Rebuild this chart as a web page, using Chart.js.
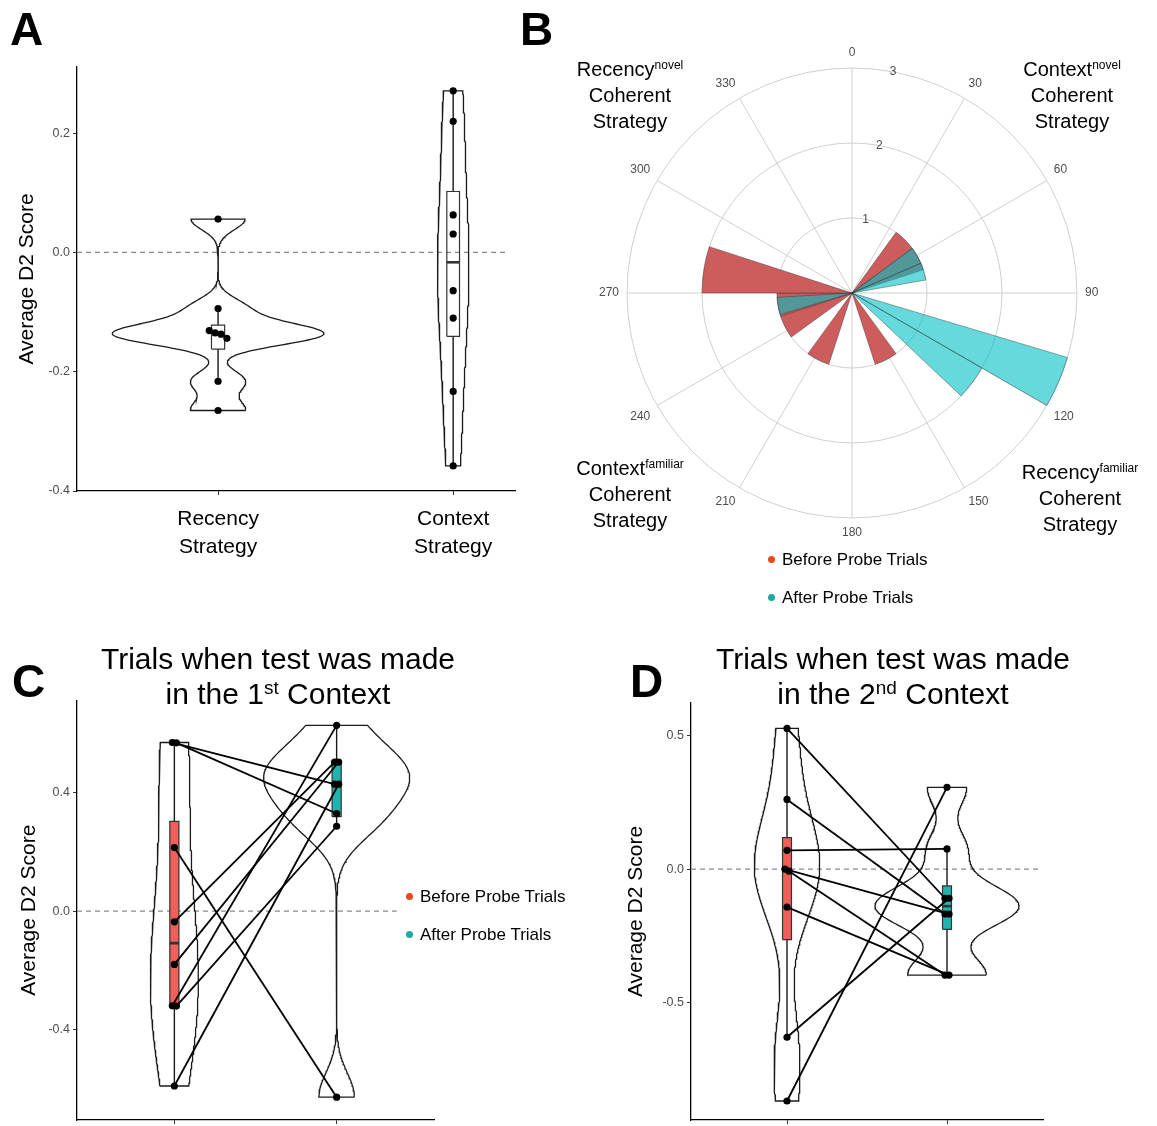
<!DOCTYPE html>
<html>
<head>
<meta charset="utf-8">
<title>Strategy scores before and after probe trials</title>
<script src="https://cdn.jsdelivr.net/npm/chart.js"></script>
<style>
  html, body { margin: 0; padding: 0; background: #fff; }
  body { width: 1157px; height: 1126px; position: relative; overflow: hidden;
         font-family: "Liberation Sans", Arial, Helvetica, sans-serif; color: #000; }
  canvas { position: absolute; }
  .txt { position: absolute; white-space: nowrap; }
  .letter { font-weight: bold; font-size: 46px; line-height: 46px; }
  .ann { font-size: 20px; line-height: 26px; text-align: center; width: 200px; }
  .ann sup { font-size: 12px; vertical-align: 7px; line-height: 0; }
  .ttl { font-size: 30px; line-height: 35px; text-align: center; width: 400px; }
  .ttl sup { font-size: 19px; vertical-align: 10px; line-height: 0; }
  .leg { font-size: 17px; line-height: 22px; }
  .dot { position: absolute; width: 7px; height: 7px; border-radius: 50%; }
</style>
</head>
<body>

<canvas id="panelA" width="530" height="530" style="left:0px;top:50px;"></canvas>
<canvas id="panelB" width="540" height="540" style="left:579px;top:23px;"></canvas>
<canvas id="panelC" width="440" height="450" style="left:0px;top:690px;"></canvas>
<canvas id="panelD" width="557" height="450" style="left:600px;top:690px;"></canvas>

<div class="txt letter" style="left:10px;top:6px;">A</div>
<div class="txt letter" style="left:520px;top:6px;">B</div>
<div class="txt letter" style="left:12px;top:658px;">C</div>
<div class="txt letter" style="left:630px;top:658px;">D</div>

<div class="txt ann" style="left:530px;top:56px;">Recency<sup>novel</sup><br>Coherent<br>Strategy</div>
<div class="txt ann" style="left:972px;top:56px;">Context<sup>novel</sup><br>Coherent<br>Strategy</div>
<div class="txt ann" style="left:530px;top:455px;">Context<sup>familiar</sup><br>Coherent<br>Strategy</div>
<div class="txt ann" style="left:980px;top:459px;">Recency<sup>familiar</sup><br>Coherent<br>Strategy</div>

<div class="dot" style="left:768px;top:556px;background:#e8481e;"></div>
<div class="txt leg" style="left:782px;top:549px;">Before Probe Trials</div>
<div class="dot" style="left:768px;top:594px;background:#1fa8a0;"></div>
<div class="txt leg" style="left:782px;top:587px;">After Probe Trials</div>

<div class="txt ttl" style="left:78px;top:641px;">Trials when test was made<br>in the 1<sup>st</sup> Context</div>
<div class="txt ttl" style="left:693px;top:641px;">Trials when test was made<br>in the 2<sup>nd</sup> Context</div>

<div class="dot" style="left:406px;top:893px;background:#e8481e;"></div>
<div class="txt leg" style="left:420px;top:886px;">Before Probe Trials</div>
<div class="dot" style="left:406px;top:931px;background:#1fa8a0;"></div>
<div class="txt leg" style="left:420px;top:924px;">After Probe Trials</div>

<script>
// ---------- data ----------
// Panel A: average D2 score per participant for each strategy
const strategyNames = [['Recency', 'Strategy'], ['Context', 'Strategy']];
const recencyScores = [0.056, -0.094, -0.131, -0.135, -0.137, -0.144, -0.216, -0.265];
const contextScores = [0.271, 0.220, 0.063, 0.031, -0.064, -0.110, -0.233, -0.358];
const scoreTicksA = [-0.4, -0.2, 0.0, 0.2];

// Panel B: strategy angle histograms (counts per angular bin)
const compassLabels = ['0', '30', '60', '90', '120', '150', '180', '210', '240', '270', '300', '330'];
const beforeAngleCounts = [0, 0, 1, 1, 0, 0, 0, 0, 1, 0, 0, 1, 0, 1, 1, 2, 0, 0, 0, 0];            // 20 bins
const afterAngleCounts = [0, 0, 0, 0, 1, 1, 0, 0, 3, 2, 0, 0, 0, 0, 0, 0, 0, 0, 0, 1, 0, 0, 0, 0, 0, 0, 0]; // 27 bins
const countTicks = [1, 2, 3];

// Panel C: test made in the 1st context (paired by participant)
const firstBefore = [0.570, 0.569, 0.215, -0.036, -0.180, -0.320, -0.321, -0.591];
const firstAfter = [0.429, 0.330, -0.629, 0.504, 0.504, 0.628, 0.287, 0.429];
const scoreTicksC = [-0.4, 0.0, 0.4];

// Panel D: test made in the 2nd context (paired by participant)
const secondBefore = [0.525, 0.260, 0.070, 0.000, -0.008, -0.142, -0.628, -0.866];
const secondAfter = [-0.109, -0.168, 0.075, -0.168, -0.396, -0.396, -0.109, 0.305];
const scoreTicksD = [-0.5, 0.0, 0.5];

// ---------- helpers ----------
const FONT = '"Liberation Sans", Arial, Helvetica, sans-serif';
Chart.defaults.font.family = FONT;

const BEFORE_BOX = '#f0605b';
const AFTER_BOX = '#21b3b0';
const INK = '#1a1a1a';

function sorted(a) { return a.slice().sort((p, q) => p - q); }
function quantile(s, p) {
  const h = (s.length - 1) * p, lo = Math.floor(h), hi = Math.min(lo + 1, s.length - 1);
  return s[lo] + (h - lo) * (s[hi] - s[lo]);
}
function stdev(a) {
  const m = a.reduce((s, v) => s + v, 0) / a.length;
  return Math.sqrt(a.reduce((s, v) => s + (v - m) * (v - m), 0) / (a.length - 1));
}
// Silverman's rule of thumb (bw.nrd0)
function bandwidth(a) {
  const s = sorted(a);
  const hi = stdev(a);
  let lo = Math.min(hi, (quantile(s, 0.75) - quantile(s, 0.25)) / 1.34);
  if (!lo) lo = hi || Math.abs(a[0]) || 1;
  return 0.9 * lo * Math.pow(a.length, -0.2);
}
// Gaussian kernel density, trimmed to the data range
function density(a, steps) {
  const bw = bandwidth(a), s = sorted(a);
  const lo = s[0], hi = s[s.length - 1];
  const k = 1 / (a.length * bw * Math.sqrt(2 * Math.PI));
  const out = [];
  for (let i = 0; i < steps; i++) {
    const y = lo + (hi - lo) * i / (steps - 1);
    let d = 0;
    for (const v of a) { const z = (y - v) / bw; d += Math.exp(-0.5 * z * z); }
    out.push({ y, d: d * k });
  }
  return out;
}
function boxStats(a) {
  const s = sorted(a);
  const q1 = quantile(s, 0.25), med = quantile(s, 0.5), q3 = quantile(s, 0.75), iqr = q3 - q1;
  const lo = s.find(v => v >= q1 - 1.5 * iqr);
  const hi = s.slice().reverse().find(v => v <= q3 + 1.5 * iqr);
  return { q1, med, q3, lo, hi };
}
function seg(points, extra) {
  return Object.assign({ type: 'line', data: points, borderColor: INK, borderWidth: 1.4,
    pointRadius: 0, fill: false, tension: 0 }, extra || {});
}
// violin outlines, widths scaled by the largest density in the panel
function violins(groups) {
  const dens = groups.map(g => density(g.values, 240));
  let maxD = 0;
  dens.forEach(list => list.forEach(p => { if (p.d > maxD) maxD = p.d; }));
  return groups.map((g, i) => {
    const right = dens[i].map(p => ({ x: g.x + 0.45 * p.d / maxD, y: p.y }));
    const left = dens[i].slice().reverse().map(p => ({ x: g.x - 0.45 * p.d / maxD, y: p.y }));
    const pts = right.concat(left);
    pts.push(right[0]);
    return seg(pts, { borderWidth: 1.3, order: 6 });
  });
}
function boxplot(x, values, fillColor, half) {
  const b = boxStats(values);
  const rect = [
    { x: x - half, y: b.q1 }, { x: x + half, y: b.q1 }, { x: x + half, y: b.q3 },
    { x: x - half, y: b.q3 }, { x: x - half, y: b.q1 }
  ];
  return [
    seg([{ x, y: b.hi }, { x, y: b.q3 }], { order: 5 }),
    seg([{ x, y: b.q1 }, { x, y: b.lo }], { order: 5 }),
    seg(rect, { order: 4, borderColor: '#333', borderWidth: 1.2,
      fill: fillColor ? 'shape' : false, backgroundColor: fillColor || 'transparent' }),
    seg([{ x: x - half, y: b.med }, { x: x + half, y: b.med }], { order: 3, borderWidth: 2.6, borderColor: '#333' })
  ];
}
// points sharing (nearly) the same value are placed side by side
function dodge(values, x, step, tol) {
  const out = values.map(v => ({ x, y: v }));
  const used = values.map(() => false);
  values.forEach((v, i) => {
    if (used[i]) return;
    const grp = [];
    values.forEach((w, j) => { if (!used[j] && Math.abs(w - v) <= tol) { grp.push(j); used[j] = true; } });
    grp.forEach((j, k) => { out[j].x = x + (k - (grp.length - 1) / 2) * step; });
  });
  return out;
}
function dots(points) {
  return { type: 'scatter', data: points, pointRadius: 3.6, pointBackgroundColor: '#000',
    pointBorderWidth: 0, showLine: false, order: 1 };
}
function zeroLine(x0, x1) {
  return seg([{ x: x0, y: 0 }, { x: x1, y: 0 }], { borderColor: '#8a8a8a', borderDash: [5, 4],
    borderWidth: 1.3, order: 7 });
}

function stripOptions(cfg) {
  return {
    responsive: false, animation: false, devicePixelRatio: 1, events: [],
    layout: { padding: cfg.padding },
    plugins: { legend: { display: false }, tooltip: { enabled: false } },
    scales: {
      x: {
        type: 'linear', min: cfg.xmin, max: cfg.xmax,
        afterBuildTicks: s => { s.ticks = [{ value: 1 }, { value: 2 }]; },
        afterFit: s => { s.height = cfg.xAxisHeight; },
        grid: { display: true, drawOnChartArea: false, drawTicks: true, tickLength: 4, color: '#333', lineWidth: 1 },
        border: { display: true, color: '#000', width: 1.3 },
        ticks: {
          callback: v => (cfg.xLabels ? cfg.xLabels[Math.round(v) - 1] : ''),
          font: { size: 21, lineHeight: 1.33 }, color: '#000', padding: 10,
          maxRotation: 0, autoSkip: false
        }
      },
      y: {
        type: 'linear', min: cfg.ymin, max: cfg.ymax,
        afterBuildTicks: s => { s.ticks = cfg.yTicks.map(v => ({ value: v })); },
        afterFit: s => { s.width = cfg.yAxisWidth; },
        grid: { display: true, drawOnChartArea: false, drawTicks: true, tickLength: 4, color: '#333', lineWidth: 1 },
        border: { display: true, color: '#000', width: 1.3 },
        ticks: { callback: v => v.toFixed(1), font: { size: 12.5 }, color: '#4d4d4d', padding: 3 },
        title: { display: true, text: 'Average D2 Score', font: { size: 21 }, color: '#000',
          padding: { top: cfg.titlePad, bottom: 0 } }
      }
    }
  };
}

// ---------- Panel A ----------
{
  const sets = [].concat(
    violins([{ x: 1, values: recencyScores }, { x: 2, values: contextScores }]),
    boxplot(1, recencyScores, null, 0.028),
    boxplot(2, contextScores, null, 0.027),
    [zeroLine(0.4, 2.23),
     dots(dodge(recencyScores, 1, 0.025, 0.015).concat(dodge(contextScores, 2, 0.025, 0.01)))]
  );
  new Chart(document.getElementById('panelA'), {
    type: 'scatter',
    data: { datasets: sets },
    options: stripOptions({
      padding: { top: 17, right: 15, left: 0, bottom: 0 },
      xmin: 0.4, xmax: 2.263, ymin: -0.4, ymax: 0.311,
      yTicks: scoreTicksA, yAxisWidth: 77, xAxisHeight: 89, titlePad: 15,
      xLabels: strategyNames
    })
  });
}

// ---------- Panel B ----------
{
  const countLabels = {
    id: 'countLabels',
    afterDraw(chart) {
      const s = chart.scales.r, ctx = chart.ctx;
      const a = 10.5 * Math.PI / 180;
      ctx.save();
      ctx.font = '12px ' + FONT;
      ctx.fillStyle = '#4d4d4d';
      ctx.textAlign = 'center';
      ctx.textBaseline = 'middle';
      countTicks.forEach(v => {
        const d = s.getDistanceFromCenterForValue(v);
        ctx.fillText(String(v), s.xCenter + d * Math.sin(a), s.yCenter - d * Math.cos(a));
      });
      ctx.restore();
    }
  };
  new Chart(document.getElementById('panelB'), {
    type: 'polarArea',
    data: {
      labels: compassLabels,
      datasets: [
        { data: beforeAngleCounts, order: 2, backgroundColor: '#cd5c5c', borderColor: 'rgba(40,40,40,0.55)', borderWidth: 0.7 },
        { data: afterAngleCounts, order: 1, backgroundColor: 'rgba(0,191,196,0.6)', borderColor: 'rgba(40,40,40,0.55)', borderWidth: 0.7 }
      ]
    },
    options: {
      responsive: false, animation: false, devicePixelRatio: 1, events: [],
      layout: { padding: 17 },
      plugins: { legend: { display: false }, tooltip: { enabled: false } },
      scales: {
        r: {
          min: 0, max: 3, startAngle: 0,
          ticks: { display: false, stepSize: 1 },
          grid: { circular: true, color: '#cfcfcf', lineWidth: 1 },
          angleLines: { display: true, color: '#cfcfcf', lineWidth: 1 },
          pointLabels: { display: true, centerPointLabels: false, font: { size: 12 }, color: '#4d4d4d', padding: 8 }
        }
      }
    },
    plugins: [countLabels]
  });
}

// ---------- Panels C and D ----------
function pairedPanel(id, before, after, opts) {
  const beforePts = dodge(before, 1, 0.025, 0.01);
  const afterPts = dodge(after, 2, 0.025, 0.01);
  const links = before.map((v, i) => seg([beforePts[i], afterPts[i]], { borderWidth: 1.8, borderColor: '#000', order: 2 }));
  const sets = [].concat(
    violins([{ x: 1, values: before }, { x: 2, values: after }]),
    boxplot(1, before, BEFORE_BOX, 0.028),
    boxplot(2, after, AFTER_BOX, 0.028),
    [zeroLine(0.4, opts.zeroEnd)],
    links,
    [dots(beforePts.concat(afterPts))]
  );
  new Chart(document.getElementById(id), {
    type: 'scatter',
    data: { datasets: sets },
    options: stripOptions(opts)
  });
}

pairedPanel('panelC', firstBefore, firstAfter, {
  padding: { top: 10, right: 6, left: 0, bottom: 0 },
  xmin: 0.4, xmax: 2.6, ymin: -0.706, ymax: 0.712, zeroEnd: 2.37,
  yTicks: scoreTicksC, yAxisWidth: 77, xAxisHeight: 20, titlePad: 17, xLabels: null
});
pairedPanel('panelD', secondBefore, secondAfter, {
  padding: { top: 13, right: 114, left: 0, bottom: 0 },
  xmin: 0.4, xmax: 2.6, ymin: -0.937, ymax: 0.62, zeroEnd: 2.58,
  yTicks: scoreTicksD, yAxisWidth: 91, xAxisHeight: 20, titlePad: 24, xLabels: null
});
</script>
</body>
</html>
